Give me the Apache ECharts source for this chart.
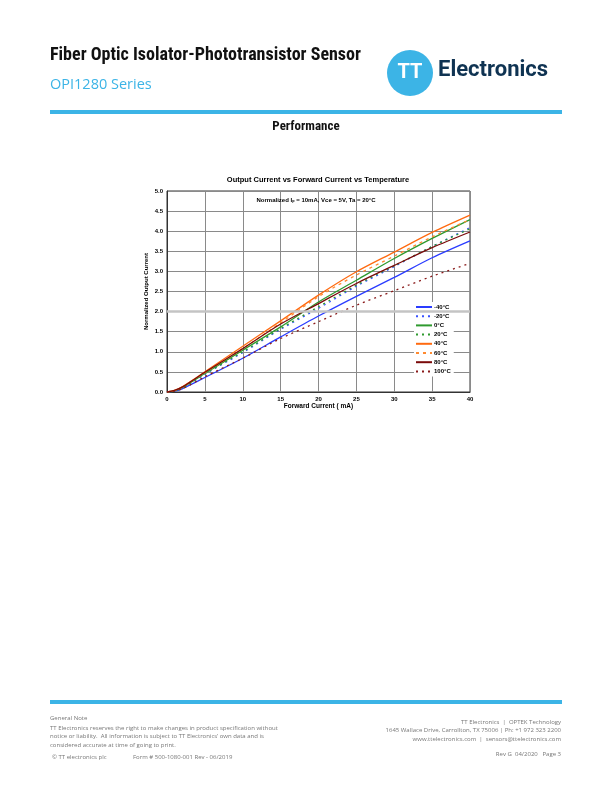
<!DOCTYPE html>
<html><head><meta charset="utf-8">
<script src="https://cdn.jsdelivr.net/npm/echarts@6/dist/echarts.min.js"></script>
<style>html,body{margin:0;padding:0;background:#fff;}#c{width:612px;height:792px;}</style>
</head><body><div id="c"></div>
<script>
const forwardCurrent = [0, 1, 2, 3, 5, 10, 15, 20, 25, 30, 35, 40];
const tempLabels = ['-40°C', '-20°C', '0°C', '20°C', '40°C', '60°C', '80°C', '100°C'];
const tM40 = [0, 0.02, 0.08, 0.17, 0.36, 0.84, 1.37, 1.89, 2.38, 2.85, 3.34, 3.76];
const tM20 = [0, 0.03, 0.10, 0.20, 0.44, 0.98, 1.56, 2.08, 2.63, 3.12, 3.62, 4.09];
const t0 = [0, 0.03, 0.11, 0.22, 0.46, 1.04, 1.62, 2.24, 2.78, 3.32, 3.82, 4.29];
const t20 = [0, 0.03, 0.10, 0.21, 0.45, 1.00, 1.58, 2.12, 2.66, 3.14, 3.62, 4.06];
const t40 = [0, 0.04, 0.13, 0.25, 0.50, 1.14, 1.77, 2.41, 2.99, 3.48, 3.97, 4.40];
const t60 = [0, 0.04, 0.12, 0.24, 0.48, 1.08, 1.72, 2.37, 2.91, 3.38, 3.86, 4.29];
const t80 = [0, 0.04, 0.12, 0.24, 0.49, 1.08, 1.69, 2.20, 2.70, 3.15, 3.59, 3.98];
const t100 = [0, 0.02, 0.08, 0.17, 0.38, 0.84, 1.33, 1.75, 2.16, 2.52, 2.88, 3.20];
const seriesValues = [tM40, tM20, t0, t20, t40, t60, t80, t100];

const styles = [
  {color: '#2a3cff', type: 'solid'},
  {color: '#3a52ff', type: [2, 4]},
  {color: '#2f9a2f', type: 'solid'},
  {color: '#2f9a2f', type: [2, 4]},
  {color: '#ff6a10', type: 'solid'},
  {color: '#ff8a30', type: [3, 4]},
  {color: '#7a0a0a', type: 'solid'},
  {color: '#8a1a1a', type: [2, 4]}
];

const chart = echarts.init(document.getElementById('c'), null, {renderer: 'canvas'});
const gray = '#8a8a8a';
const condensed = '"Liberation Sans Narrow", "Roboto Condensed", Roboto, sans-serif';
const series = seriesValues.map((vals, i) => ({
  name: tempLabels[i],
  type: 'line',
  smooth: 0.3,
  symbol: 'none',
  data: forwardCurrent.map((x, j) => [x, vals[j]]),
  lineStyle: {color: styles[i].color, width: 1.3, type: styles[i].type},
  itemStyle: {color: styles[i].color},
  z: 3
}));
series[0].markLine = {silent: true, symbol: 'none', label: {show: false}, animation: false,
  lineStyle: {color: '#c4c4c4', width: 2.5, type: 'solid'},
  data: [{yAxis: 2.0}]};

chart.setOption({
  animation: false,
  backgroundColor: '#fff',
  textStyle: {fontFamily: 'Arial, "Liberation Sans", sans-serif'},
  grid: {left: 167, right: 142, top: 191, bottom: 400, show: true, borderColor: '#333', borderWidth: 1},
  xAxis: {
    type: 'value', min: 0, max: 40, interval: 5,
    name: 'Forward Current ( mA)', nameLocation: 'middle', nameGap: 11,
    nameTextStyle: {fontSize: 6.5, fontWeight: 'bold', color: '#000'},
    axisLine: {lineStyle: {color: '#333'}},
    axisTick: {show: false},
    axisLabel: {fontSize: 6, fontWeight: 'bold', color: '#000', margin: 4},
    splitLine: {lineStyle: {color: gray, width: 1}}
  },
  yAxis: {
    type: 'value', min: 0, max: 5, interval: 0.5,
    name: 'Normalized Output Current', nameLocation: 'middle', nameGap: 18,
    nameTextStyle: {fontSize: 6, fontWeight: 'bold', color: '#000'},
    axisLine: {show: true, lineStyle: {color: '#333'}},
    axisTick: {show: false},
    axisLabel: {fontSize: 6, fontWeight: 'bold', color: '#000', margin: 4, formatter: v => v.toFixed(1)},
    splitLine: {lineStyle: {color: gray, width: 1}}
  },
  legend: {
    orient: 'vertical', left: 414, top: 302,
    data: tempLabels,
    itemWidth: 16, itemHeight: 4, itemGap: 3.2,
    itemStyle: {opacity: 0},
    backgroundColor: '#fff', padding: [2, 3, 2, 1],
    textStyle: {fontSize: 6, fontWeight: 'bold', color: '#000', padding: [0, 0, 0, -3]}
  },
  graphic: [
    {type: 'text', left: 50, top: 46, style: {text: 'Fiber Optic Isolator-Phototransistor Sensor', fontFamily: condensed, fontSize: 18, fontWeight: 'bold', fill: '#111'}},
    {type: 'text', left: 50, top: 77, style: {text: 'OPI1280 Series', fontFamily: '"Open Sans", sans-serif', fontSize: 14.5, fill: '#3cb4e6'}},
    {type: 'circle', shape: {cx: 410, cy: 73, r: 23}, style: {fill: '#3cb4e6'}},
    {type: 'text', x: 410, y: 73, style: {text: 'TT', fontFamily: 'Roboto, sans-serif', fontSize: 20, fontWeight: 'bold', fill: '#fff', align: 'center', verticalAlign: 'middle'}},
    {type: 'text', left: 438, top: 59, style: {text: 'Electronics', fontFamily: 'Roboto, sans-serif', fontSize: 22, fontWeight: 'bold', fill: '#0f3352'}},
    {type: 'rect', shape: {x: 50, y: 110, width: 512, height: 4}, style: {fill: '#3cb4e6'}},
    {type: 'text', x: 306, y: 127, style: {text: 'Performance', fontFamily: condensed, fontSize: 13, fontWeight: 'bold', fill: '#111', align: 'center', verticalAlign: 'middle'}},
    {type: 'text', x: 318, y: 180, style: {text: 'Output Current vs Forward Current vs Temperature', fontSize: 7.5, fontWeight: 'bold', fill: '#000', align: 'center', verticalAlign: 'middle', fontFamily: 'Arial, "Liberation Sans", sans-serif'}},
    {type: 'text', x: 316, y: 200, z: 10, style: {text: 'Normalized I{s|F} = 10mA, Vce = 5V, Ta = 20°C', rich: {s: {fontSize: 4, fontWeight: 'bold', padding: [3, 0, 0, 0]}}, fontSize: 6, fontWeight: 'bold', fill: '#000', align: 'center', verticalAlign: 'middle', fontFamily: 'Arial, "Liberation Sans", sans-serif'}},
    {type: 'rect', shape: {x: 50, y: 700, width: 512, height: 4}, style: {fill: '#3cb4e6'}},
    {type: 'text', left: 50, top: 715, style: {text: 'General Note', fontSize: 6, fill: '#777', fontFamily: '"Open Sans", sans-serif'}},
    {type: 'text', left: 50, top: 724, style: {text: 'TT Electronics reserves the right to make changes in product specification without\nnotice or liability.  All information is subject to TT Electronics\u2019 own data and is\nconsidered accurate at time of going to print.', fontSize: 6, lineHeight: 8.5, fill: '#777', fontFamily: '"Open Sans", sans-serif'}},
    {type: 'text', left: 52, top: 754, style: {text: '\u00a9 TT electronics plc', fontSize: 6, fill: '#777', fontFamily: '"Open Sans", sans-serif'}},
    {type: 'text', left: 133, top: 754, style: {text: 'Form # 500-1080-001 Rev - 06/2019', fontSize: 6, fill: '#777', fontFamily: '"Open Sans", sans-serif'}},
    {type: 'text', x: 561, y: 718, style: {text: 'TT Electronics  |  OPTEK Technology\n1645 Wallace Drive, Carrollton, TX 75006 | Ph: +1 972 323 2200\nwww.ttelectronics.com  |  sensors@ttelectronics.com', fontSize: 6, lineHeight: 8.5, fill: '#777', align: 'right', fontFamily: '"Open Sans", sans-serif'}},
    {type: 'text', x: 561, y: 751, style: {text: 'Rev G  04/2020   Page 3', fontSize: 6, fill: '#777', align: 'right', fontFamily: '"Open Sans", sans-serif'}}
  ],
  series: series
});
</script></body></html>
